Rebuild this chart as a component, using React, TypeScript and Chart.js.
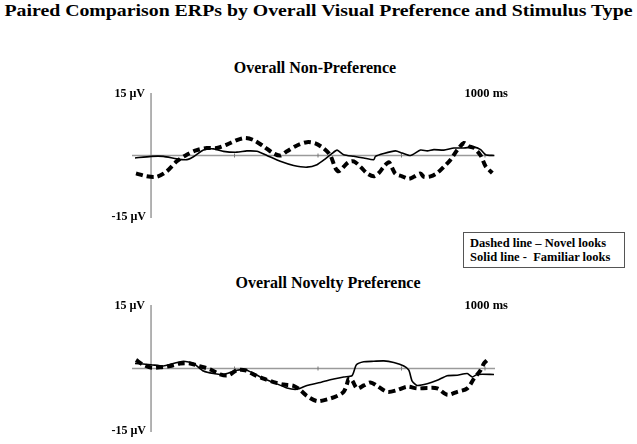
import React, { useEffect, useRef } from "react";
import { Chart, registerables } from "chart.js";

Chart.register(...registerables);

// ---- Data (time in ms, amplitude in µV) ----
const topSolidTimes = [-48, 0, 37, 77, 107, 127, 157, 187, 217, 257, 287, 317, 347, 387, 427, 467, 497, 522, 542, 557, 577, 607, 637, 667, 672, 697, 732, 752, 777, 807, 827, 847, 877, 907, 937, 967, 987, 1002, 1027];
const topSolidValues = [-0.6, -0.2, -0.2, -0.8, -1.0, -0.3, 1.3, 1.6, 1.0, 0.8, 1.1, 1.0, 0.0, -1.4, -2.4, -2.8, -2.2, -0.8, 0.5, 1.3, 0.2, -0.2, -0.6, -1.0, -0.2, 0.5, 1.1, 0.6, 0.0, 1.3, 1.1, 1.4, 1.3, 1.8, 1.8, 2.0, 1.4, 0.2, 0.0];

const topDashedTimes = [-45, -13, 17, 47, 77, 107, 137, 167, 197, 227, 257, 282, 307, 337, 367, 387, 407, 437, 467, 492, 517, 537, 552, 562, 577, 592, 607, 627, 647, 667, 682, 697, 712, 722, 732, 752, 772, 787, 807, 817, 837, 857, 877, 897, 917, 937, 952, 967, 987, 1002, 1022];
const topDashedValues = [-4.3, -5.0, -5.1, -3.8, -1.4, 0.2, 1.3, 1.8, 1.8, 2.6, 3.7, 4.2, 3.7, 2.2, 0.5, 0.0, 1.0, 2.4, 3.2, 2.9, 1.7, 0.0, -3.0, -3.8, -2.7, -1.6, -1.4, -2.7, -4.3, -5.0, -4.2, -2.7, -1.6, -3.0, -4.4, -5.0, -5.6, -5.1, -4.3, -5.1, -5.0, -4.2, -2.7, -1.0, 1.3, 3.0, 2.2, 1.8, 0.0, -2.6, -4.2];

const bottomSolidTimes = [-48, 0, 37, 67, 97, 127, 157, 187, 217, 257, 287, 327, 367, 407, 437, 467, 507, 547, 577, 602, 615, 637, 667, 697, 727, 757, 772, 782, 797, 827, 857, 887, 917, 947, 962, 977, 1027];
const bottomSolidValues = [1.2, 0.9, 0.6, 1.2, 1.7, 1.2, -0.6, -1.2, -1.4, -0.4, -0.4, -2.0, -3.3, -4.6, -4.9, -4.0, -3.3, -2.5, -2.0, -1.7, 0.9, 1.6, 1.7, 1.8, 1.4, 0.6, -0.4, -3.0, -4.0, -3.6, -2.8, -1.7, -1.6, -1.2, -2.0, -1.4, -1.4];

const bottomDashedTimes = [-45, -23, 2, 32, 57, 87, 117, 142, 177, 207, 232, 257, 282, 307, 337, 367, 397, 427, 447, 467, 497, 527, 557, 577, 587, 592, 602, 617, 637, 657, 677, 707, 737, 767, 797, 827, 857, 887, 917, 947, 967, 987, 997, 1007];
const bottomDashedValues = [2.0, 0.9, 0.2, 0.3, 0.6, 1.2, 1.2, 0.6, -0.2, -1.4, -1.6, -0.4, -0.4, -1.4, -2.4, -3.2, -3.8, -4.1, -5.1, -6.5, -7.7, -7.3, -6.5, -5.5, -3.6, -2.4, -2.8, -4.7, -4.0, -3.3, -4.1, -5.5, -5.1, -4.3, -4.7, -4.6, -4.7, -6.2, -5.5, -4.7, -2.4, -0.4, 1.2, 2.0];

const timeTicks = [250, 500, 750, 1000];
const yLimit = 15;
const xMin = -57;
const xMax = 1030;
const topLabel = "15 µV";
const bottomLabel = "-15 µV";
const endLabel = "1000 ms";

const toPoints = (xs: number[], ys: number[]) => xs.map((x, i) => ({ x, y: ys[i] }));

const axesPlugin = {
  id: "erpAxes",
  beforeDatasetsDraw(chart: any) {
    const { ctx, scales } = chart;
    const xs = scales.x;
    const ys = scales.y;
    const y0 = ys.getPixelForValue(0);
    const x0 = xs.getPixelForValue(0);
    ctx.save();
    ctx.strokeStyle = "#9a9a9a";
    ctx.lineWidth = 1.5;
    ctx.beginPath();
    ctx.moveTo(xs.left, y0);
    ctx.lineTo(xs.right, y0);
    ctx.moveTo(x0, ys.getPixelForValue(yLimit));
    ctx.lineTo(x0, ys.getPixelForValue(-yLimit));
    ctx.stroke();
    ctx.lineWidth = 1;
    ctx.strokeStyle = "#777";
    ctx.beginPath();
    timeTicks.forEach((t) => {
      const px = xs.getPixelForValue(t);
      ctx.moveTo(px, y0 - 2);
      ctx.lineTo(px, y0 + 2);
    });
    ctx.stroke();
    ctx.restore();
  },
  afterDraw(chart: any) {
    const { ctx, scales } = chart;
    const xs = scales.x;
    const ys = scales.y;
    const x0 = xs.getPixelForValue(0);
    ctx.save();
    ctx.fillStyle = "#000";
    ctx.font = "bold 12px 'Liberation Serif', 'Times New Roman', serif";
    ctx.textAlign = "right";
    ctx.textBaseline = "alphabetic";
    ctx.fillText(topLabel, x0 - 6, ys.getPixelForValue(yLimit) + 4);
    ctx.fillText(bottomLabel, x0 - 5, ys.getPixelForValue(-yLimit) + 2);
    ctx.font = "bold 12.5px 'Liberation Serif', 'Times New Roman', serif";
    ctx.fillText(endLabel, xs.getPixelForValue(1000) + 23, ys.getPixelForValue(yLimit) + 4);
    ctx.restore();
  },
};

function ErpChart(props: { solidX: number[]; solidY: number[]; dashX: number[]; dashY: number[]; padTop: number; padBottom: number; top: number }) {
  const ref = useRef<HTMLCanvasElement | null>(null);
  useEffect(() => {
    if (!ref.current) return;
    const chart = new Chart(ref.current, {
      type: "line",
      data: {
        datasets: [
          {
            label: "Novel looks",
            data: toPoints(props.dashX, props.dashY),
            borderColor: "#000",
            borderWidth: 4,
            borderDash: [7, 4],
            pointRadius: 0,
            tension: 0.3,
            fill: false,
          },
          {
            label: "Familiar looks",
            data: toPoints(props.solidX, props.solidY),
            borderColor: "#000",
            borderWidth: 1.6,
            pointRadius: 0,
            tension: 0.2,
            fill: false,
          },
        ],
      },
      options: {
        responsive: false,
        animation: false,
        devicePixelRatio: 1,
        layout: { padding: { left: 132, right: 142, top: props.padTop, bottom: props.padBottom } },
        scales: {
          x: { type: "linear", min: xMin, max: xMax, display: false },
          y: { type: "linear", min: -yLimit, max: yLimit, display: false },
        },
        plugins: { legend: { display: false }, tooltip: { enabled: false }, title: { display: false } },
      },
      plugins: [axesPlugin],
    } as any);
    return () => chart.destroy();
  }, []);
  return (
    <canvas
      ref={ref}
      width={637}
      height={150}
      style={{ position: "absolute", left: 0, top: props.top, width: 637, height: 150 }}
    />
  );
}

const serif = "'Liberation Serif', 'Times New Roman', serif";

export default function App() {
  return (
    <div style={{ position: "fixed", left: 0, top: 0, width: 637, height: 444, background: "#fff", fontFamily: serif, overflow: "hidden" }}>
      <div style={{ position: "absolute", left: 0, top: 1, width: 637, textAlign: "center", fontWeight: "bold", fontSize: 17, lineHeight: "20px", whiteSpace: "nowrap", transform: "scaleX(1.165)", transformOrigin: "318.5px 0" }}>
        Paired Comparison ERPs by Overall Visual Preference and Stimulus Type
      </div>
      <div style={{ position: "absolute", left: 0, top: 59, width: 630, textAlign: "center", fontWeight: "bold", fontSize: 16, lineHeight: "18px" }}>
        Overall Non-Preference
      </div>
      <ErpChart solidX={topSolidTimes} solidY={topSolidValues} dashX={topDashedTimes} dashY={topDashedValues} padTop={13} padBottom={12} top={80} />
      <div style={{ position: "absolute", left: 463, top: 232, width: 154, height: 34, border: "1px solid #555", fontWeight: "bold", fontSize: 12.5, lineHeight: "14px", padding: "0 0 0 6px", boxSizing: "content-box", whiteSpace: "nowrap" }}>
        <div style={{ marginTop: 3 }}>Dashed line – Novel looks</div>
        <div>Solid line -&nbsp; Familiar looks</div>
      </div>
      <div style={{ position: "absolute", left: 0, top: 274, width: 656, textAlign: "center", fontWeight: "bold", fontSize: 16, lineHeight: "18px" }}>
        Overall Novelty Preference
      </div>
      <ErpChart solidX={bottomSolidTimes} solidY={bottomSolidValues} dashX={bottomDashedTimes} dashY={bottomDashedValues} padTop={15} padBottom={8} top={290} />
    </div>
  );
}
